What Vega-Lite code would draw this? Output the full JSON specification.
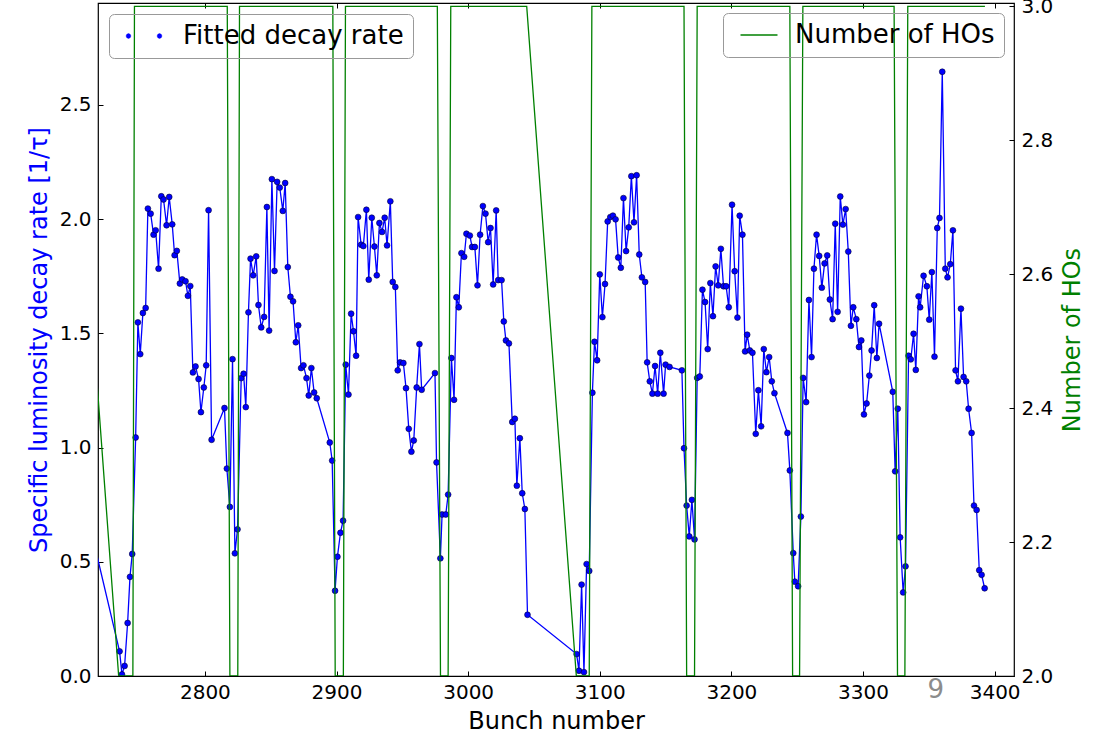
{
  "$schema": "https://vega.github.io/schema/vega-lite/v6.json",
  "autosize": {"type": "none"},
  "padding": {"left": 98, "top": 3, "right": 92, "bottom": 58},
  "width": 916,
  "height": 673,
  "background": "white",
  "config": {
    "font": "DejaVu Sans",
    "view": {"stroke": "black", "strokeWidth": 1.2},
    "axis": {"grid": false, "domain": false, "labelFont": "DejaVu Sans", "titleFont": "DejaVu Sans", "labelColor": "black", "tickColor": "black", "labelFontSize": 20, "titleFontSize": 24, "titleFontWeight": "normal", "tickSize": -5, "tickWidth": 1},
    "legend": {"labelFont": "DejaVu Sans", "labelFontSize": 26, "labelColor": "black", "labelLimit": 600, "strokeColor": "#999999", "cornerRadius": 5, "padding": 9, "title": null}
  },
  "datasets": {
    "rate": [
      {"b": 2697, "r": 1.04},
      {"b": 2735.2, "r": 0.108}, {"b": 2737.0, "r": 0.007}, {"b": 2739.0, "r": 0.044}, {"b": 2741.3, "r": 0.232}, {"b": 2743.1, "r": 0.434}, {"b": 2744.8, "r": 0.534},
      {"b": 2747.4, "r": 1.044}, {"b": 2749.1, "r": 1.548}, {"b": 2750.9, "r": 1.409}, {"b": 2752.9, "r": 1.589}, {"b": 2755.0, "r": 1.611}, {"b": 2756.7, "r": 2.046},
      {"b": 2758.8, "r": 2.024}, {"b": 2761.0, "r": 1.932}, {"b": 2762.6, "r": 1.951}, {"b": 2764.8, "r": 1.783}, {"b": 2766.9, "r": 2.1}, {"b": 2768.6, "r": 2.086},
      {"b": 2770.9, "r": 1.973}, {"b": 2772.9, "r": 2.097}, {"b": 2775.2, "r": 1.977}, {"b": 2777.0, "r": 1.842}, {"b": 2778.7, "r": 1.861}, {"b": 2781.0, "r": 1.718},
      {"b": 2782.8, "r": 1.736}, {"b": 2785.3, "r": 1.728}, {"b": 2787.1, "r": 1.664}, {"b": 2788.9, "r": 1.707}, {"b": 2790.9, "r": 1.329}, {"b": 2792.9, "r": 1.355},
      {"b": 2795.2, "r": 1.3}, {"b": 2797.0, "r": 1.155}, {"b": 2799.2, "r": 1.263}, {"b": 2801.0, "r": 1.36}, {"b": 2802.8, "r": 2.039}, {"b": 2805.1, "r": 1.034},
      {"b": 2814.9, "r": 1.173}, {"b": 2816.7, "r": 0.908}, {"b": 2819.0, "r": 0.74}, {"b": 2821.0, "r": 1.387}, {"b": 2822.8, "r": 0.537}, {"b": 2824.8, "r": 0.642},
      {"b": 2827.6, "r": 1.304}, {"b": 2829.4, "r": 1.323}, {"b": 2831.1, "r": 1.177}, {"b": 2833.1, "r": 1.592}, {"b": 2834.7, "r": 1.827}, {"b": 2836.7, "r": 1.754},
      {"b": 2839.0, "r": 1.837}, {"b": 2840.7, "r": 1.624}, {"b": 2842.8, "r": 1.526}, {"b": 2845.0, "r": 1.572}, {"b": 2847.1, "r": 2.053}, {"b": 2848.8, "r": 1.512},
      {"b": 2850.9, "r": 2.175}, {"b": 2852.9, "r": 1.773}, {"b": 2854.9, "r": 2.163}, {"b": 2856.9, "r": 2.138}, {"b": 2859.2, "r": 2.036}, {"b": 2861.0, "r": 2.158},
      {"b": 2863.0, "r": 1.79}, {"b": 2865.0, "r": 1.66}, {"b": 2867.0, "r": 1.64}, {"b": 2869.1, "r": 1.461}, {"b": 2870.9, "r": 1.535}, {"b": 2873.1, "r": 1.348},
      {"b": 2874.9, "r": 1.36}, {"b": 2877.2, "r": 1.304}, {"b": 2878.9, "r": 1.228}, {"b": 2880.9, "r": 1.348}, {"b": 2883.0, "r": 1.241}, {"b": 2885.0, "r": 1.216},
      {"b": 2894.9, "r": 1.022}, {"b": 2896.7, "r": 0.943}, {"b": 2898.9, "r": 0.373}, {"b": 2900.7, "r": 0.522}, {"b": 2903.0, "r": 0.627}, {"b": 2905.0, "r": 0.68},
      {"b": 2907.0, "r": 1.363}, {"b": 2909.1, "r": 1.232}, {"b": 2911.1, "r": 1.586}, {"b": 2912.9, "r": 1.509}, {"b": 2914.9, "r": 1.402}, {"b": 2916.4, "r": 2.009},
      {"b": 2918.7, "r": 1.888}, {"b": 2920.4, "r": 1.882}, {"b": 2922.7, "r": 2.041}, {"b": 2924.5, "r": 1.735}, {"b": 2926.8, "r": 2.006}, {"b": 2928.8, "r": 1.88},
      {"b": 2930.6, "r": 1.754}, {"b": 2932.6, "r": 1.983}, {"b": 2934.6, "r": 1.944}, {"b": 2936.6, "r": 2.006}, {"b": 2938.4, "r": 1.885}, {"b": 2940.9, "r": 2.078},
      {"b": 2942.7, "r": 1.725}, {"b": 2944.7, "r": 1.703}, {"b": 2946.5, "r": 1.338}, {"b": 2948.3, "r": 1.373}, {"b": 2950.8, "r": 1.37}, {"b": 2952.8, "r": 1.26},
      {"b": 2954.9, "r": 1.082}, {"b": 2956.9, "r": 0.982}, {"b": 2958.7, "r": 1.031}, {"b": 2960.9, "r": 1.263}, {"b": 2963.0, "r": 1.453}, {"b": 2964.7, "r": 1.253},
      {"b": 2974.8, "r": 1.326}, {"b": 2976.0, "r": 0.935}, {"b": 2978.9, "r": 0.515}, {"b": 2980.2, "r": 0.707}, {"b": 2983.0, "r": 0.707}, {"b": 2984.8, "r": 0.794},
      {"b": 2987.3, "r": 1.392}, {"b": 2989.3, "r": 1.209}, {"b": 2991.1, "r": 1.658}, {"b": 2992.9, "r": 1.614}, {"b": 2994.9, "r": 1.851}, {"b": 2997.0, "r": 1.835},
      {"b": 2998.7, "r": 1.936}, {"b": 3001.3, "r": 1.928}, {"b": 3003.0, "r": 1.878}, {"b": 3005.1, "r": 1.878}, {"b": 3007.1, "r": 1.71}, {"b": 3009.1, "r": 1.932},
      {"b": 3011.2, "r": 2.057}, {"b": 3013.2, "r": 2.024}, {"b": 3015.2, "r": 1.899}, {"b": 3017.0, "r": 1.961}, {"b": 3019.0, "r": 1.714}, {"b": 3021.3, "r": 2.038},
      {"b": 3022.8, "r": 1.733}, {"b": 3025.4, "r": 1.733}, {"b": 3027.1, "r": 1.552}, {"b": 3028.7, "r": 1.469}, {"b": 3031.0, "r": 1.456}, {"b": 3033.5, "r": 1.112},
      {"b": 3035.5, "r": 1.126}, {"b": 3037.0, "r": 0.833}, {"b": 3039.3, "r": 1.041}, {"b": 3041.1, "r": 0.8}, {"b": 3043.1, "r": 0.731}, {"b": 3045.1, "r": 0.268},
      {"b": 3082.4, "r": 0.096}, {"b": 3084.2, "r": 0.023}, {"b": 3086.2, "r": 0.4}, {"b": 3088.0, "r": 0.017}, {"b": 3090.0, "r": 0.49}, {"b": 3092.0, "r": 0.46},
      {"b": 3094.4, "r": 1.24}, {"b": 3096.0, "r": 1.463}, {"b": 3098.0, "r": 1.382}, {"b": 3100.0, "r": 1.758}, {"b": 3102.0, "r": 1.571}, {"b": 3104.0, "r": 1.716},
      {"b": 3106.0, "r": 1.99}, {"b": 3108.0, "r": 2.009}, {"b": 3110.0, "r": 2.015}, {"b": 3112.0, "r": 1.999}, {"b": 3114.0, "r": 1.832}, {"b": 3116.0, "r": 1.787},
      {"b": 3118.0, "r": 2.092}, {"b": 3120.0, "r": 1.86}, {"b": 3122.0, "r": 1.964}, {"b": 3124.0, "r": 2.188}, {"b": 3126.0, "r": 1.986}, {"b": 3128.0, "r": 2.192},
      {"b": 3130.0, "r": 1.845}, {"b": 3132.0, "r": 1.745}, {"b": 3134.5, "r": 1.725}, {"b": 3136.0, "r": 1.373}, {"b": 3138.0, "r": 1.29}, {"b": 3140.0, "r": 1.236},
      {"b": 3142.0, "r": 1.357}, {"b": 3144.0, "r": 1.236}, {"b": 3146.0, "r": 1.415}, {"b": 3148.5, "r": 1.236}, {"b": 3150.0, "r": 1.363}, {"b": 3153.0, "r": 1.353},
      {"b": 3162.4, "r": 1.338}, {"b": 3164.0, "r": 0.997}, {"b": 3166.0, "r": 0.746}, {"b": 3168.0, "r": 0.611}, {"b": 3170.0, "r": 0.771}, {"b": 3172.0, "r": 0.598},
      {"b": 3174.0, "r": 1.305}, {"b": 3176.0, "r": 1.311}, {"b": 3178.0, "r": 1.691}, {"b": 3180.0, "r": 1.637}, {"b": 3182.0, "r": 1.431}, {"b": 3184.0, "r": 1.72},
      {"b": 3186.0, "r": 1.575}, {"b": 3188.0, "r": 1.793}, {"b": 3190.0, "r": 1.71}, {"b": 3192.0, "r": 1.87}, {"b": 3194.0, "r": 1.706}, {"b": 3196.0, "r": 1.706},
      {"b": 3198.0, "r": 1.614}, {"b": 3200.5, "r": 2.063}, {"b": 3202.5, "r": 1.772}, {"b": 3204.6, "r": 1.569}, {"b": 3206.3, "r": 2.015}, {"b": 3208.4, "r": 1.932},
      {"b": 3210.4, "r": 1.421}, {"b": 3212.0, "r": 1.494}, {"b": 3214.0, "r": 1.425}, {"b": 3216.0, "r": 1.415}, {"b": 3218.5, "r": 1.06}, {"b": 3220.5, "r": 1.251},
      {"b": 3222.6, "r": 1.093}, {"b": 3224.6, "r": 1.431}, {"b": 3226.6, "r": 1.33}, {"b": 3228.7, "r": 1.396}, {"b": 3230.7, "r": 1.29}, {"b": 3232.7, "r": 1.238},
      {"b": 3242.6, "r": 1.064}, {"b": 3244.4, "r": 0.9}, {"b": 3247.0, "r": 0.538}, {"b": 3248.2, "r": 0.413}, {"b": 3250.7, "r": 0.393}, {"b": 3252.8, "r": 0.698},
      {"b": 3254.5, "r": 1.305}, {"b": 3256.8, "r": 1.199}, {"b": 3258.9, "r": 1.646}, {"b": 3260.9, "r": 1.396}, {"b": 3262.7, "r": 1.783}, {"b": 3264.7, "r": 1.932},
      {"b": 3266.7, "r": 1.839}, {"b": 3268.7, "r": 1.7}, {"b": 3270.8, "r": 1.806}, {"b": 3272.8, "r": 1.841}, {"b": 3274.8, "r": 1.648}, {"b": 3276.9, "r": 1.562},
      {"b": 3278.9, "r": 1.98}, {"b": 3280.7, "r": 1.594}, {"b": 3282.7, "r": 2.099}, {"b": 3284.7, "r": 1.976}, {"b": 3286.8, "r": 2.044}, {"b": 3288.8, "r": 1.858},
      {"b": 3290.8, "r": 1.533}, {"b": 3292.6, "r": 1.614}, {"b": 3294.9, "r": 1.562}, {"b": 3296.9, "r": 1.44}, {"b": 3298.7, "r": 1.469}, {"b": 3300.7, "r": 1.145},
      {"b": 3302.7, "r": 1.193}, {"b": 3304.8, "r": 1.315}, {"b": 3306.5, "r": 1.425}, {"b": 3308.5, "r": 1.623}, {"b": 3310.5, "r": 1.392}, {"b": 3312.2, "r": 1.542},
      {"b": 3322.6, "r": 1.244}, {"b": 3324.4, "r": 0.896}, {"b": 3326.4, "r": 1.17}, {"b": 3328.2, "r": 0.607}, {"b": 3330.5, "r": 0.366}, {"b": 3332.3, "r": 0.48},
      {"b": 3334.6, "r": 1.402}, {"b": 3336.3, "r": 1.386}, {"b": 3338.4, "r": 1.498}, {"b": 3340.1, "r": 1.34}, {"b": 3342.2, "r": 1.662}, {"b": 3343.4, "r": 1.614},
      {"b": 3346.0, "r": 1.752}, {"b": 3348.5, "r": 1.706}, {"b": 3350.3, "r": 1.56}, {"b": 3352.3, "r": 1.768}, {"b": 3354.3, "r": 1.398}, {"b": 3356.4, "r": 1.961},
      {"b": 3358.1, "r": 2.005}, {"b": 3360.2, "r": 2.645}, {"b": 3362.5, "r": 1.783}, {"b": 3364.2, "r": 1.745}, {"b": 3366.3, "r": 1.803}, {"b": 3368.3, "r": 1.951},
      {"b": 3370.3, "r": 1.338}, {"b": 3372.1, "r": 1.29}, {"b": 3374.4, "r": 1.608}, {"b": 3376.4, "r": 1.309}, {"b": 3378.4, "r": 1.29}, {"b": 3380.2, "r": 1.17},
      {"b": 3382.5, "r": 1.064}, {"b": 3384.3, "r": 0.746}, {"b": 3386.3, "r": 0.727}, {"b": 3388.3, "r": 0.463}, {"b": 3390.1, "r": 0.443}, {"b": 3392.4, "r": 0.384}
    ],
    "hos": [
      {"b": 2697, "h": 3}, {"b": 2734.5, "h": 2}, {"b": 2745.3, "h": 2}, {"b": 2746.5, "h": 3},
      {"b": 2817.0, "h": 3}, {"b": 2819.0, "h": 2}, {"b": 2825.0, "h": 2}, {"b": 2826.3, "h": 3},
      {"b": 2897.2, "h": 3}, {"b": 2899.0, "h": 2}, {"b": 2905.2, "h": 2}, {"b": 2906.8, "h": 3},
      {"b": 2976.6, "h": 3}, {"b": 2979.0, "h": 2}, {"b": 2984.8, "h": 2}, {"b": 2986.8, "h": 3},
      {"b": 3044.5, "h": 3}, {"b": 3082.2, "h": 2}, {"b": 3092.0, "h": 2}, {"b": 3094.0, "h": 3},
      {"b": 3164.0, "h": 3}, {"b": 3166.0, "h": 2}, {"b": 3172.0, "h": 2}, {"b": 3174.0, "h": 3},
      {"b": 3244.4, "h": 3}, {"b": 3246.5, "h": 2}, {"b": 3251.8, "h": 2}, {"b": 3254.3, "h": 3},
      {"b": 3323.6, "h": 3}, {"b": 3326.2, "h": 2}, {"b": 3331.8, "h": 2}, {"b": 3334.0, "h": 3},
      {"b": 3392.6, "h": 3}
    ],
    "note": [{"b": 3355.2, "r": -0.06, "t": "9"}]
  },
  "layer": [
    {
      "encoding": {
        "x": {"field": "b", "type": "quantitative", "scale": {"domain": [2718.8, 3414.7], "nice": false, "zero": false},
              "axis": {"orient": "bottom", "title": "Bunch number", "values": [2800, 2900, 3000, 3100, 3200, 3300, 3400], "format": "d", "labelPadding": 11, "titlePadding": 7}},
        "y": {"field": "r", "type": "quantitative", "scale": {"domain": [0, 2.946], "nice": false, "zero": false},
              "axis": {"orient": "left", "title": "Specific luminosity decay rate [1/τ]", "titleColor": "#0000ff", "values": [0, 0.5, 1, 1.5, 2, 2.5], "format": ".1f", "labelPadding": 12, "titlePadding": 8}}
      },
      "layer": [
        {"data": {"name": "rate"}, "mark": {"type": "line", "strokeWidth": 1.3, "clip": true},
         "encoding": {"color": {"datum": "Fitted decay rate", "type": "nominal", "scale": {"range": ["#0000ff"]},
           "legend": {"orient": "top-left", "offset": 11, "symbolSize": 256, "symbolOffset": 13, "labelOffset": 26,
             "symbolType": "M-1.64,0L-1.73,0.21L-1.94,0.3L-2.15,0.21L-2.24,0L-2.15,-0.21L-1.94,-0.3L-1.73,-0.21ZM2.24,0L2.15,0.21L1.94,0.3L1.73,0.21L1.64,0L1.73,-0.21L1.94,-0.3L2.15,-0.21Z",
             "encode": {"symbols": {"update": {"shape": {"value": "M-1.64,0L-1.73,0.21L-1.94,0.3L-2.15,0.21L-2.24,0L-2.15,-0.21L-1.94,-0.3L-1.73,-0.21ZM2.24,0L2.15,0.21L1.94,0.3L1.73,0.21L1.64,0L1.73,-0.21L1.94,-0.3L2.15,-0.21Z"}, "fill": {"value": "#0000ff"}, "stroke": {"value": "#000033"}, "strokeWidth": {"value": 0.5}}}}}}}},
        {"data": {"name": "rate"}, "mark": {"type": "point", "filled": true, "color": "#0000ff", "size": 34, "stroke": "#000033", "strokeWidth": 0.6, "opacity": 1, "clip": true}},
        {"data": {"name": "note"}, "mark": {"type": "text", "fontSize": 26, "color": "#8c8c8c", "baseline": "middle", "align": "center", "clip": false},
         "encoding": {"text": {"field": "t", "type": "nominal"}}}
      ]
    },
    {
      "data": {"name": "hos"},
      "mark": {"type": "line", "strokeWidth": 1.3, "clip": true},
      "encoding": {
        "x": {"field": "b", "type": "quantitative", "scale": {"domain": [2718.8, 3414.7], "nice": false, "zero": false},
              "axis": {"orient": "top", "title": null, "labels": false, "values": [2800, 2900, 3000, 3100, 3200, 3300, 3400]}},
        "y": {"field": "h", "type": "quantitative", "scale": {"domain": [2.0, 3.005], "nice": false, "zero": false},
              "axis": {"orient": "right", "title": "Number of HOs", "titleColor": "#008000", "titleAngle": 270, "titleBaseline": "top", "values": [2.0, 2.2, 2.4, 2.6, 2.8, 3.0], "format": ".1f", "labelPadding": 12, "titlePadding": 8}},
        "color": {"datum": "Number of HOs", "type": "nominal", "scale": {"range": ["#008000"]},
          "legend": {"orient": "top-right", "offset": 10, "symbolSize": 342, "symbolOffset": 14, "labelOffset": 23, "symbolStrokeWidth": 1.3,
            "encode": {"symbols": {"update": {"shape": {"value": "M-2,0L2,0"}, "stroke": {"value": "#008000"}, "fill": {"value": "transparent"}, "strokeWidth": {"value": 1.3}}}}}}
      }
    }
  ],
  "resolve": {
    "scale": {"x": "independent", "y": "independent", "color": "independent"},
    "axis": {"x": "independent", "y": "independent"},
    "legend": {"color": "independent"}
  }
}
